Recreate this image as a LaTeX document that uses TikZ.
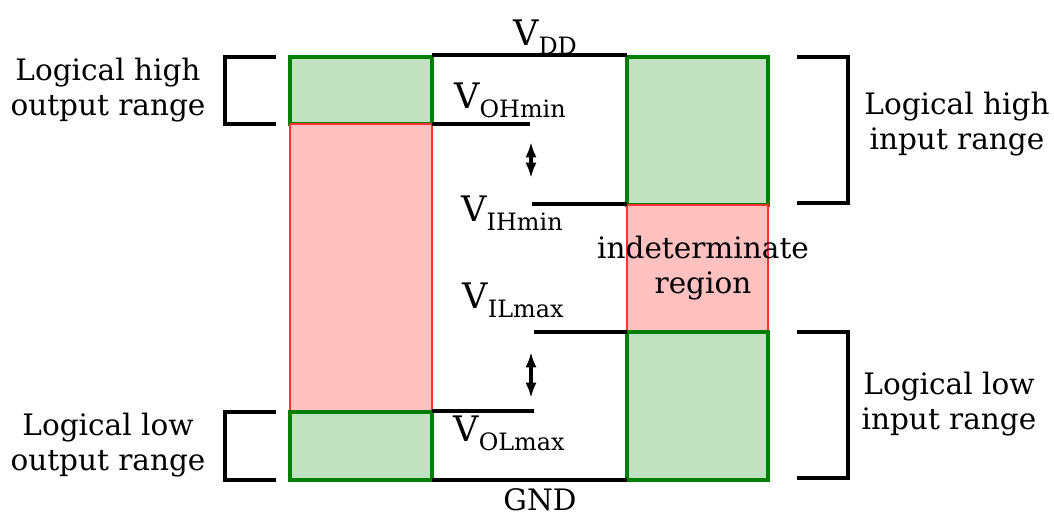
\documentclass[tikz,border=0pt]{standalone}
\usepackage{fontspec}
\setmainfont{DejaVu Serif}
\usetikzlibrary{arrows.meta, positioning}
\definecolor{mygreen}{RGB}{0,128,0}
\definecolor{hdrgreen}{RGB}{192,226,192}
\definecolor{myred}{RGB}{255,50,50}
\definecolor{hdrred}{RGB}{255,192,192}
\newcommand{\vlev}[1]{V\raisebox{-0.5ex}{\fontsize{17}{17}\selectfont #1}}
\tikzset{
  greenbox/.style={draw=mygreen, fill=hdrgreen, line width=2.4pt},
  redbox/.style={draw=myred, fill=hdrred, line width=1pt},
  level/.style={line width=2.8pt, color=black},
  bracket/.style={line width=2.6pt, color=black},
  gap/.style={arrows={Latex[length=11pt,width=8pt]-Latex[length=11pt,width=8pt]}, line width=2.2pt},
  lbl/.style={font=\fontsize{21}{25}\selectfont, align=center, inner sep=0pt},
  vlbl/.style={font=\fontsize{25}{26}\selectfont, inner sep=0pt}
}

\begin{document}
\begin{tikzpicture}[x=0.025cm, y=-0.025cm]
\useasboundingbox (0,0) rectangle (1054,520);

% output column
\draw[greenbox] (290,57) rectangle (432,124);
\draw[redbox] (290,124) rectangle (432,412);
\draw[greenbox] (290,412) rectangle (432,480);
% input column
\draw[greenbox] (627,57) rectangle (768,205);
\draw[redbox] (627,205) rectangle (768,332);
\draw[greenbox] (627,332) rectangle (768,480);

% levels
\coordinate (vddl) at (432,55);   \coordinate (vddr) at (627,55);
\coordinate (gndl) at (432,480);  \coordinate (gndr) at (627,480);
\coordinate (ohl) at (432,124);   \coordinate (ohr) at (530,124);
\coordinate (ihl) at (532,204);   \coordinate (ihr) at (627,204);
\coordinate (ill) at (534,332);   \coordinate (ilr) at (627,332);
\coordinate (oll) at (432,411);   \coordinate (olr) at (534,411);
\draw[level] (vddl) -- (vddr);
\draw[level] (gndl) -- (gndr);
\draw[level] (ohl) -- (ohr);
\draw[level] (ihl) -- (ihr);
\draw[level] (ill) -- (ilr);
\draw[level] (oll) -- (olr);

\node[vlbl] (vdd) at (545,37) {\vlev{DD}};
\node[vlbl] (voh) at (510,100) {\vlev{OHmin}};
\node[vlbl] (vih) at (512,213) {\vlev{IHmin}};
\node[vlbl] (vil) at (513,300) {\vlev{ILmax}};
\node[vlbl] (vol) at (509,433) {\vlev{OLmax}};
\node[lbl] (gnd) at (540,500) {GND};

% noise margins
\coordinate (nmht) at (531,142); \coordinate (nmhb) at (531,178);
\coordinate (nmlt) at (531,352); \coordinate (nmlb) at (531,398);
\draw[gap] (nmht) -- (nmhb);
\draw[gap] (nmlt) -- (nmlb);

\node[lbl] (indet) at (703,268) {indeterminate\\region};

% ranges
\draw[bracket] (276,57) -- (225,57) -- (225,124) -- (276,124);
\draw[bracket] (276,412) -- (225,412) -- (225,480) -- (276,480);
\draw[bracket] (797,57) -- (848,57) -- (848,203) -- (797,203);
\draw[bracket] (797,332) -- (848,332) -- (848,478) -- (797,478);

\node[lbl] (outhigh) at (108,90) {Logical high\\output range};
\node[lbl] (outlow) at (108,445) {Logical low\\output range};
\node[lbl] (inhigh) at (957,124) {Logical high\\input range};
\node[lbl] (inlow) at (949,404) {Logical low\\input range};
\end{tikzpicture}
\end{document}
